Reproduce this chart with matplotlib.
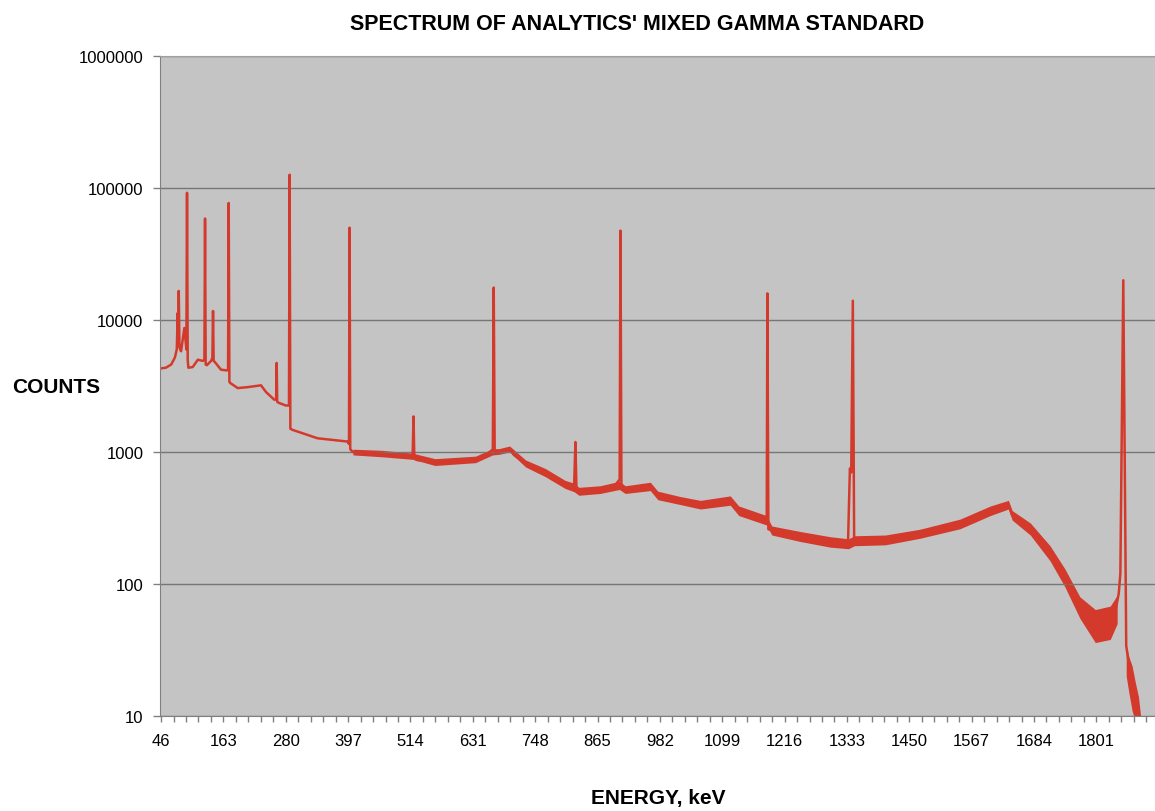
import numpy as np
import matplotlib.pyplot as plt
from matplotlib.ticker import FixedLocator, NullFormatter

plt.rcParams['font.family'] = ['Liberation Sans', 'DejaVu Sans']

# spectrum trace (energy in keV, counts), peaks included
energy = [46, 55, 65, 72, 75.5, 77.3, 78.2, 79.2, 80.5, 83.5, 89.7, 93.5, 94.7, 96, 97.2,
          105.4, 115, 124.2, 127.3, 128.5, 129.7, 132, 140, 142.3, 143.5, 144.7, 147,
          158.5, 169.7, 171.7, 172.9, 174.2, 175.9, 189.8, 208.5, 233.5, 242.8, 258.4,
          261.9, 262.9, 263.9, 267.7, 280.3, 286, 287.2, 288.6, 292.9, 339.7, 396,
          398.6, 399.7, 401, 405.9, 430, 460, 500, 518, 519.7, 521.2, 526, 560, 600,
          636, 650, 662, 668.5, 670.2, 672, 680, 700, 708, 730, 767, 804, 821, 823.5,
          825.5, 830, 870, 898, 906.5, 908, 909.8, 917, 946, 964, 978, 1020, 1058,
          1095, 1114, 1130, 1170, 1180, 1182.5, 1183.7, 1185.5, 1192, 1245, 1302,
          1335, 1338.5, 1341, 1344, 1346.5, 1360, 1405, 1470, 1545, 1602, 1621, 1636,
          1643, 1677, 1714, 1742, 1770, 1799, 1827, 1836, 1843, 1846, 1851.5, 1857,
          1862, 1868, 1874, 1880, 1884]
counts = [4300, 4350, 4600, 5200, 6000, 11300, 7000, 16600, 6200, 5800, 8700, 6000, 92000,
          5000, 4350, 4400, 5000, 4900, 5000, 58700, 4600, 4550, 4900, 5200, 11700, 4900,
          4800, 4200, 4150, 4200, 77000, 3400, 3330, 3050, 3100, 3200, 2850, 2490, 2500,
          4730, 2400, 2350, 2250, 2250, 126000, 1500, 1470, 1270, 1200, 1150, 50000,
          1050, 1000, 990, 970, 940, 930, 1860, 900, 870, 840, 850, 880, 930, 990, 1050,
          17600, 1010, 1010, 1060, 950, 820, 700, 570, 540, 1190, 510, 500, 520, 560,
          620, 47500, 530, 520, 525, 550, 470, 430, 400, 415, 430, 360, 320, 305, 330,
          15900, 260, 255, 230, 210, 205, 750, 700, 14000, 215, 210, 215, 240, 285, 360,
          390, 400, 330, 260, 170, 110, 65, 48, 52, 60, 85, 120, 20000, 34, 25, 20, 15,
          11, 8]

# width of the noisy continuum band
band_energy = [406, 460, 518, 560, 636, 668, 680, 700, 730, 767, 804, 821, 830, 870, 906,
               917, 964, 978, 1020, 1058, 1114, 1130, 1182, 1192, 1245, 1302, 1336, 1347,
               1405, 1470, 1545, 1602, 1636, 1643, 1677, 1714, 1742, 1770, 1799, 1827, 1840]
band_low = [950, 920, 880, 790, 830, 950, 960, 1000, 770, 650, 530, 500, 470, 485, 520,
            485, 510, 435, 400, 370, 395, 330, 280, 235, 210, 190, 185, 195, 198, 222,
            262, 330, 370, 305, 235, 150, 95, 55, 36, 38, 50]
band_high = [1050, 1030, 980, 890, 930, 1060, 1060, 1110, 870, 750, 610, 580, 540, 555,
             600, 555, 590, 505, 460, 430, 465, 390, 330, 275, 250, 228, 220, 232, 235,
             260, 310, 390, 430, 360, 290, 195, 130, 80, 64, 68, 82]

tail_energy = [1857, 1862, 1868, 1874, 1880, 1884]
tail_low = [20, 15, 11, 9, 8, 7]
tail_high = [34, 28, 24, 18, 14, 10]

xtick_labels = [46, 163, 280, 397, 514, 631, 748, 865, 982, 1099, 1216, 1333, 1450,
                1567, 1684, 1801]
ytick_values = [10, 100, 1000, 10000, 100000, 1000000]

red = '#d43a2c'

fig = plt.figure(figsize=(11.55, 8.12), dpi=100)
ax = fig.add_axes([160 / 1155, 1 - 717 / 812, 1 - 160 / 1155, (717 - 57) / 812])
ax.set_facecolor('#c4c4c4')

ax.fill_between(band_energy, band_low, band_high, color=red, lw=0)
ax.fill_between(tail_energy, tail_low, tail_high, color=red, lw=0)
ax.plot(energy, counts, color=red, lw=1.8)

ax.set_yscale('log')
ax.set_ylim(10, 1000000)
ax.set_xlim(44, 1911)

ax.yaxis.set_major_locator(FixedLocator(ytick_values))
ax.set_yticklabels([str(v) for v in ytick_values])
ax.yaxis.set_minor_locator(FixedLocator([]))
ax.yaxis.set_minor_formatter(NullFormatter())
ax.grid(axis='y', color='#767676', lw=1)

ax.set_xticks(xtick_labels)
ax.set_xticklabels([str(v) for v in xtick_labels])
ax.xaxis.set_minor_locator(FixedLocator(np.arange(46, 1911, 23.4)))

ax.tick_params(axis='both', which='both', direction='out', color='#808080',
               labelsize=12, width=1)
ax.tick_params(axis='x', which='both', length=4, pad=8)
ax.tick_params(axis='y', length=5, pad=7)

for side in ['left', 'bottom']:
    ax.spines[side].set_color('#808080')
ax.spines['top'].set_color('#a0a0a0')
ax.spines['right'].set_visible(False)

fig.text(637 / 1155, 1 - 24 / 812, "SPECTRUM OF ANALYTICS' MIXED GAMMA STANDARD",
         ha='center', va='center', fontsize=15.5, fontweight='bold')
fig.text(12 / 1155, 1 - 388 / 812, 'COUNTS', ha='left', va='center',
         fontsize=15, fontweight='bold')
fig.text(658 / 1155, 1 - 799 / 812, 'ENERGY, keV', ha='center', va='center',
         fontsize=15, fontweight='bold')

fig.savefig('out.png', dpi=100)
